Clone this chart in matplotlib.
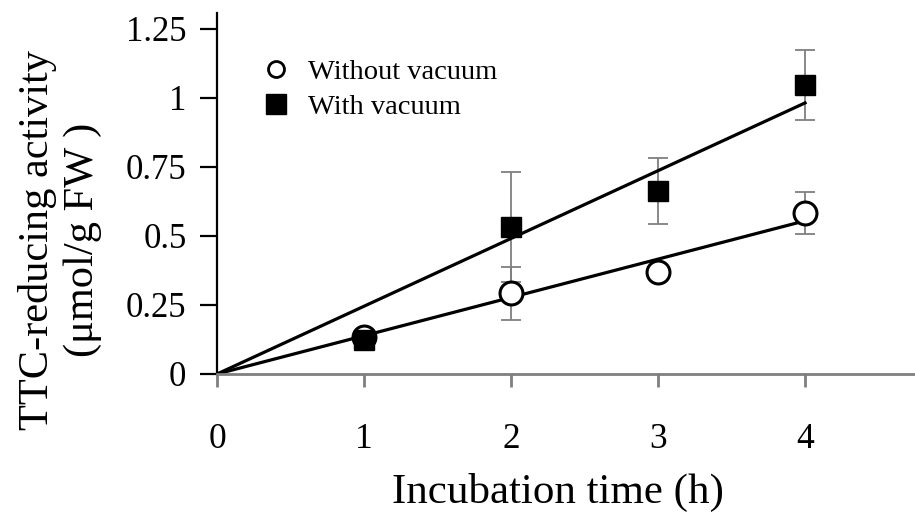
import numpy as np
import matplotlib
matplotlib.use("Agg")
import matplotlib.pyplot as plt
from matplotlib.lines import Line2D

plt.rcParams['font.family'] = ['Liberation Serif', 'DejaVu Serif']

# Data
hours = [1, 2, 3, 4]
without_vac = [0.134, 0.293, 0.370, 0.583]
without_err = [0.0, 0.096, 0.0, 0.077]
with_vac = [0.123, 0.533, 0.663, 1.047]
with_err = [0.0, 0.200, 0.118, 0.127]
x_ticks = [0, 1, 2, 3, 4]
y_ticks = [0, 0.25, 0.5, 0.75, 1.0, 1.25]
y_ticklabels = ["0", "0.25", "0.5", "0.75", "1", "1.25"]
series_labels = ["Without vacuum", "With vacuum"]

fig = plt.figure(figsize=(9.15, 5.17), dpi=100)
ax = fig.add_axes([0.2372, 0.2766, 0.7628, 0.6983])

x = np.array(hours, dtype=float)
ya = np.array(without_vac)
yb = np.array(with_vac)

# error bars
grey = '#7f7f7f'
ax.errorbar(x, ya, yerr=without_err, fmt='none', ecolor=grey, elinewidth=1.3,
            capsize=7, capthick=1.3, zorder=1)
ax.errorbar(x, yb, yerr=with_err, fmt='none', ecolor=grey, elinewidth=1.3,
            capsize=7, capthick=1.3, zorder=1)

# trend lines through origin (least squares)
xl = np.array([0.0, 4.0])
sa = np.sum(x * ya) / np.sum(x * x)
sb = np.sum(x * yb) / np.sum(x * x)
ax.plot(xl, sa * xl, color='black', lw=2.3, zorder=2)
ax.plot(xl, sb * xl, color='black', lw=2.3, zorder=2)

# markers
ax.plot(x, ya, linestyle='none', marker='o', ms=16.5, mfc='white', mec='black',
        mew=2.2, zorder=3)
ax.plot(x, yb, linestyle='none', marker='s', ms=14.5, mfc='black', mec='black',
        mew=1.0, zorder=4)

ax.set_xlim(0, 4.748)
ax.set_ylim(0, 1.308)
ax.set_xticks(x_ticks)
ax.set_xticklabels([str(t) for t in x_ticks])
ax.set_yticks(y_ticks)
ax.set_yticklabels(y_ticklabels)

for s in ['top', 'right']:
    ax.spines[s].set_visible(False)
ax.spines['left'].set_color('black')
ax.spines['left'].set_linewidth(1.6)
ax.spines['bottom'].set_color(grey)
ax.spines['bottom'].set_linewidth(2.0)

ax.tick_params(axis='y', direction='out', length=12, width=1.6, color='black',
               pad=10, labelsize=25)
ax.tick_params(axis='x', direction='out', length=9, width=2.0, color=grey,
               pad=26, labelsize=25.5, labelcolor='black')

fig.text(558 / 915, 1 - 492 / 517, "Incubation time (h)", fontsize=31,
         ha='center', va='center')
fig.text(60 / 915, 1 - 240 / 517, "TTC-reducing activity\n(\u03bcmol/g FW )",
         fontsize=30.5, ha='center', va='center', rotation=90,
         multialignment='center', linespacing=1.2)

handles = [
    Line2D([], [], linestyle='none', marker='o', ms=11.5, mfc='white', mec='black', mew=2.0),
    Line2D([], [], linestyle='none', marker='s', ms=14, mfc='black', mec='black'),
]
leg = ax.legend(handles, series_labels, loc='upper left',
                bbox_to_anchor=(45 / 698, 1 - 46 / 361), frameon=False,
                fontsize=20.5, handlelength=1.0, handletextpad=0.6,
                labelspacing=0.32, borderaxespad=0, borderpad=0)

fig.savefig('out.png', dpi=100)
